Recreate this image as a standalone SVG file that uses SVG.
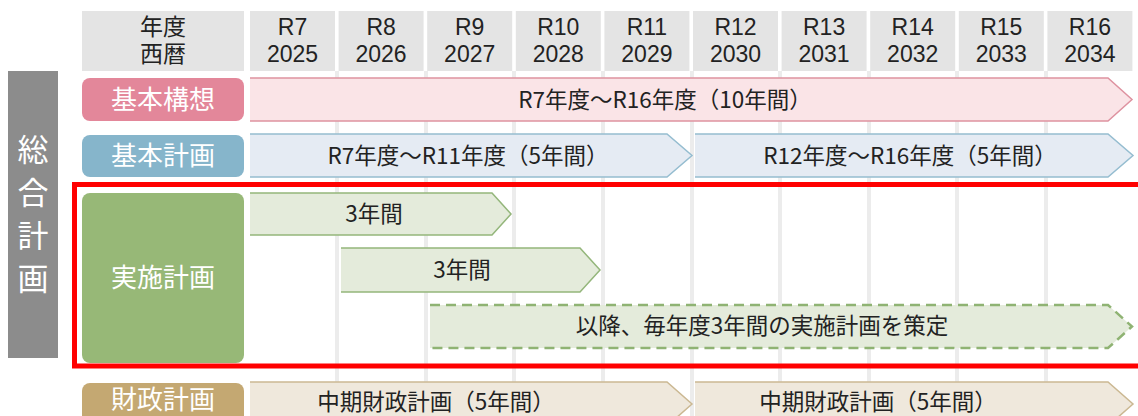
<svg xmlns="http://www.w3.org/2000/svg" width="1138" height="416" viewBox="0 0 1138 416">
<style>
text{font-family:"Noto Sans CJK JP","Noto Sans",sans-serif;}
.hc{fill:#e4e4e4;}
.ht{font-family:"Liberation Sans","Noto Sans CJK JP",sans-serif;font-size:23px;fill:#222;text-anchor:middle;}
.lt{font-size:26px;fill:#fff;text-anchor:middle;}
.at{font-size:22.5px;fill:#222;text-anchor:middle;}
.vt{font-size:31px;fill:#fff;text-anchor:middle;}
.grid{stroke:#ececec;stroke-width:4;}
</style>
<rect width="1138" height="416" fill="#fff"/>
<g id="grid">
<line class="grid" x1="337" y1="71" x2="337" y2="416"/>
<line class="grid" x1="426" y1="71" x2="426" y2="416"/>
<line class="grid" x1="514" y1="71" x2="514" y2="416"/>
<line class="grid" x1="603" y1="71" x2="603" y2="416"/>
<line class="grid" x1="692" y1="71" x2="692" y2="416"/>
<line class="grid" x1="780" y1="71" x2="780" y2="416"/>
<line class="grid" x1="869" y1="71" x2="869" y2="416"/>
<line class="grid" x1="957" y1="71" x2="957" y2="416"/>
<line class="grid" x1="1046" y1="71" x2="1046" y2="416"/>
</g>
<g id="header">
<rect class="hc" x="82" y="11" width="162" height="60"/>
<text class="ht" x="163" y="35">年度</text>
<text class="ht" x="163" y="61.5">西暦</text>
<rect class="hc" x="250" y="11" width="85" height="60"/><text class="ht" x="292.5" y="35">R7</text><text class="ht" x="292.5" y="61.5">2025</text>
<rect class="hc" x="338.6" y="11" width="85" height="60"/><text class="ht" x="381.1" y="35">R8</text><text class="ht" x="381.1" y="61.5">2026</text>
<rect class="hc" x="427.2" y="11" width="85" height="60"/><text class="ht" x="469.7" y="35">R9</text><text class="ht" x="469.7" y="61.5">2027</text>
<rect class="hc" x="515.8" y="11" width="85" height="60"/><text class="ht" x="558.3" y="35">R10</text><text class="ht" x="558.3" y="61.5">2028</text>
<rect class="hc" x="604.4" y="11" width="85" height="60"/><text class="ht" x="646.9" y="35">R11</text><text class="ht" x="646.9" y="61.5">2029</text>
<rect class="hc" x="693" y="11" width="85" height="60"/><text class="ht" x="735.5" y="35">R12</text><text class="ht" x="735.5" y="61.5">2030</text>
<rect class="hc" x="781.6" y="11" width="85" height="60"/><text class="ht" x="824.1" y="35">R13</text><text class="ht" x="824.1" y="61.5">2031</text>
<rect class="hc" x="870.2" y="11" width="85" height="60"/><text class="ht" x="912.7" y="35">R14</text><text class="ht" x="912.7" y="61.5">2032</text>
<rect class="hc" x="958.8" y="11" width="85" height="60"/><text class="ht" x="1001.3" y="35">R15</text><text class="ht" x="1001.3" y="61.5">2033</text>
<rect class="hc" x="1047.4" y="11" width="85" height="60"/><text class="ht" x="1089.9" y="35">R16</text><text class="ht" x="1089.9" y="61.5">2034</text>
</g>
<g id="sogo">
<rect x="8" y="71" width="50" height="287" fill="#8c8c8c"/>
<text class="vt" x="33" y="161">総</text>
<text class="vt" x="33" y="204">合</text>
<text class="vt" x="33" y="247">計</text>
<text class="vt" x="33" y="290">画</text>
</g>
<g id="kihon-koso">
<rect x="82" y="78" width="162" height="43" rx="8" fill="#e3879a"/>
<text class="lt" x="163" y="109">基本構想</text>
<polygon points="250,78 1108,78 1132,99.5 1108,121 250,121" fill="#fae4e7"/>
<polyline points="250,78 1108,78 1132,99.5 1108,121 250,121" fill="none" stroke="#de92a0" stroke-width="1.5"/>
<text class="at" x="665" y="108">R7年度〜R16年度（10年間）</text>
</g>
<g id="kihon-keikaku">
<rect x="82" y="135" width="162" height="42" rx="8" fill="#86b5cb"/>
<text class="lt" x="163" y="165">基本計画</text>
<polygon points="250,134 667,134 692,155.5 667,177 250,177" fill="#e5ebf3"/>
<polyline points="250,134 667,134 692,155.5 667,177 250,177" fill="none" stroke="#95bdd0" stroke-width="1.5"/>
<text class="at" x="468" y="164">R7年度〜R11年度（5年間）</text>
<polygon points="695,134 1108,134 1133,155.5 1108,177 695,177" fill="#e5ebf3"/>
<polyline points="695,134 1108,134 1133,155.5 1108,177 695,177" fill="none" stroke="#95bdd0" stroke-width="1.5"/>
<text class="at" x="910" y="164">R12年度〜R16年度（5年間）</text>
</g>
<g id="jisshi-keikaku">
<rect x="82" y="193" width="162" height="170" rx="8" fill="#97b877"/>
<text class="lt" x="163" y="287">実施計画</text>
<polygon points="250,193 492,193 511,214 492,235 250,235" fill="#e4ebdb"/>
<polyline points="250,193 492,193 511,214 492,235 250,235" fill="none" stroke="#94b67b" stroke-width="1.5"/>
<text class="at" x="374" y="222">3年間</text>
<polygon points="341,248 580,248 600,270 580,292 341,292" fill="#e4ebdb"/>
<polyline points="341,248 580,248 600,270 580,292 341,292" fill="none" stroke="#94b67b" stroke-width="1.5"/>
<text class="at" x="462" y="278">3年間</text>
<polygon points="430,305 1108,305 1132,326.5 1108,348 430,348" fill="#e4ebdb"/>
<polyline points="430,305 1108,305 1132,326.5 1108,348 430,348" fill="none" stroke="#8fb373" stroke-width="2.5" stroke-dasharray="10 6"/>
<text class="at" x="762" y="334">以降、毎年度3年間の実施計画を策定</text>
</g>
<g id="zaisei-keikaku">
<rect x="82" y="383" width="162" height="45" rx="8" fill="#c4a872"/>
<text class="lt" x="163" y="408.5" font-size="25">財政計画</text>
<polygon points="250,382 667,382 692,404 667,426 250,426" fill="#efe8dc"/>
<polyline points="250,382 667,382 692,404 667,426" fill="none" stroke="#cbb892" stroke-width="1.5"/>
<text class="at" x="436" y="409.5">中期財政計画（5年間）</text>
<polygon points="695,382 1108,382 1133,404 1108,426 695,426" fill="#efe8dc"/>
<polyline points="695,382 1108,382 1133,404 1108,426" fill="none" stroke="#cbb892" stroke-width="1.5"/>
<text class="at" x="878" y="409.5">中期財政計画（5年間）</text>
</g>
<g id="highlight">
<path d="M1140,184.5 H74.5 V366 H1140" fill="none" stroke="#ff0000" stroke-width="5"/>
</g>
</svg>
